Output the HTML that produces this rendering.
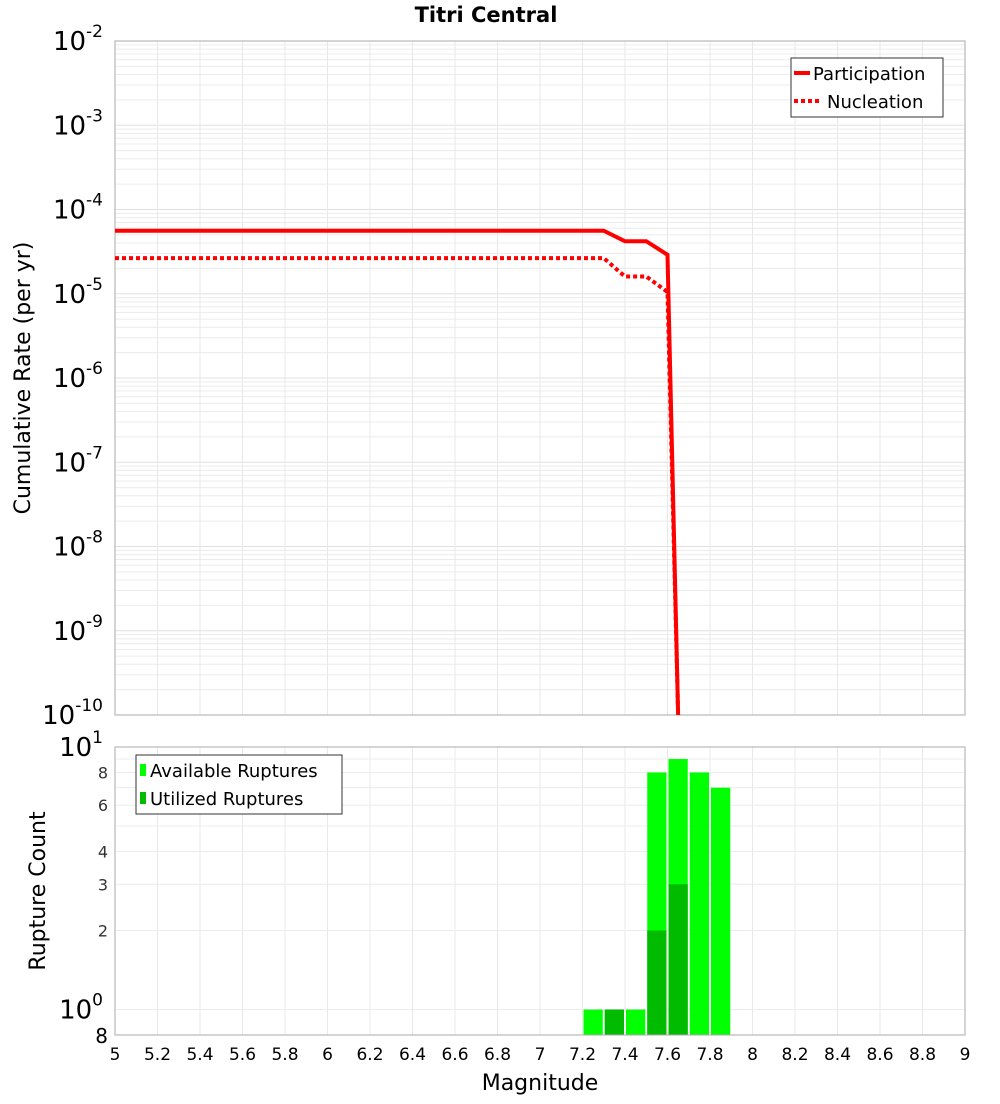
<!DOCTYPE html>
<html><head><meta charset="utf-8"><style>
body{margin:0;background:#fff;font-family:"DejaVu Sans","Liberation Sans",sans-serif;}
svg text{font-family:"DejaVu Sans","Liberation Sans",sans-serif;}
</style></head><body>
<svg id="c" width="1000" height="1100" xmlns="http://www.w3.org/2000/svg">
<text x="486" y="22" text-anchor="middle" font-size="21" font-weight="bold">Titri Central</text>
<g id="topg"></g><g id="botg"></g>
</svg>
<script>
// data
const partMag=[5.0,7.3,7.4,7.5,7.6,7.65];
const partRate=[5.6e-5,5.6e-5,4.2e-5,4.2e-5,2.9e-5,1e-10];
const nuclMag=[5.0,7.3,7.4,7.5,7.6,7.65];
const nuclRate=[2.65e-5,2.65e-5,1.6e-5,1.6e-5,1.05e-5,1e-10];
const binMag=[7.25,7.35,7.45,7.55,7.65,7.75,7.85];
const available=[1,1,1,8,9,8,7];
const utilized=[0,1,0,2,3,0,0];
const xTicks=[5,5.2,5.4,5.6,5.8,6,6.2,6.4,6.6,6.8,7,7.2,7.4,7.6,7.8,8,8.2,8.4,8.6,8.8,9];
const topExp=[-2,-3,-4,-5,-6,-7,-8,-9,-10];
const botTicks=[8,6,4,3,2];

const NS="http://www.w3.org/2000/svg";
const L=115,R=965,T1=41,B1=715,T2=747,B2=1035;
const X=m=>L+(m-5)/(9-5)*(R-L);
const Y1=v=>T1+(-2-Math.log10(v))/8*(B1-T1);
const Y2=v=>B2-(Math.log10(v)-Math.log10(0.8))/(1-Math.log10(0.8))*(B2-T2);
function el(p,tag,a,name,txt){const e=document.createElementNS(NS,tag);for(const k in a)e.setAttribute(k,a[k]);


if(txt!==undefined)e.textContent=txt;p.appendChild(e);return e;}
const topG=document.getElementById('topg'),botG=document.getElementById('botg');
el(topG,'rect',{x:L,y:T1,width:R-L,height:B1-T1,fill:'#fff'},'top-plot-area');
for(let e=-10;e<-2;e++)for(let k=1;k<10;k++){const y=Y1(k*Math.pow(10,e));el(topG,'line',{x1:L,x2:R,y1:y,y2:y,stroke:k==1?'#e0e0e0':'#ececec','stroke-width':1},'h-grid');}
xTicks.forEach(t=>{el(topG,'line',{x1:X(t),x2:X(t),y1:T1,y2:B1,stroke:'#e8e8e8'},'v-grid');el(botG,'line',{x1:X(t),x2:X(t),y1:T2,y2:B2,stroke:'#e8e8e8'},'v-grid');});
el(topG,'rect',{x:L,y:T1,width:R-L,height:B1-T1,fill:'none',stroke:'#aaa'},'top-plot-border');
topExp.forEach(e=>{const y=Y1(Math.pow(10,e));const g=el(topG,'text',{x:103,y:y+9,'text-anchor':'end','font-size':26},'y-tick-label');
g.innerHTML='10<tspan dy="-13" font-size="17">'+e+'</tspan>';});
const ln=(m,r)=>m.map((v,i)=>X(v)+','+Y1(r[i])).join(' ');
el(topG,'polyline',{points:ln(partMag,partRate),fill:'none',stroke:'#f00','stroke-width':4},'participation-line');
el(topG,'polyline',{points:ln(nuclMag,nuclRate),fill:'none',stroke:'#f00','stroke-width':4,'stroke-dasharray':'4,3'},'nucleation-line');
el(topG,'text',{x:30,y:378,'text-anchor':'middle','font-size':22,transform:'rotate(-90 30 378)'},'y-axis-title','Cumulative Rate (per yr)');
el(topG,'rect',{x:791,y:58,width:152,height:59,fill:'#fff',stroke:'#333'},'legend');
el(topG,'line',{x1:794,x2:810,y1:73,y2:73,stroke:'#f00','stroke-width':4},'legend-participation-swatch');
el(topG,'text',{x:813,y:80,'font-size':18},'legend-participation','Participation');
el(topG,'line',{x1:794,x2:822,y1:101,y2:101,stroke:'#f00','stroke-width':4,'stroke-dasharray':'4,3'},'legend-nucleation-swatch');
el(topG,'text',{x:827,y:108,'font-size':18},'legend-nucleation','Nucleation');
for(let k=1;k<=10;k++){const y=Y2(k);el(botG,'line',{x1:L,x2:R,y1:y,y2:y,stroke:'#ececec'},'h-grid');}
const w=X(0.1)-X(0)-2;
binMag.forEach((m,i)=>{const x=X(m-0.05)+1;
el(botG,'rect',{x:x,y:Y2(available[i]),width:w,height:B2-Y2(available[i]),fill:'#00ff00'},'bar-available');
if(utilized[i]>0)el(botG,'rect',{x:x,y:Y2(utilized[i]),width:w,height:B2-Y2(utilized[i]),fill:'#00bb00'},'bar-utilized');});
el(botG,'rect',{x:L,y:T2,width:R-L,height:B2-T2,fill:'none',stroke:'#aaa'},'bottom-plot-border');
botTicks.forEach(t=>el(botG,'text',{x:108,y:Y2(t)+6,'text-anchor':'end','font-size':16,fill:'#333'},'y2-tick-label',String(t)));
let g=el(botG,'text',{x:103,y:Y2(10)+9,'text-anchor':'end','font-size':26},'y2-tick-label');g.innerHTML='10<tspan dy="-13" font-size="17">1</tspan>';
g=el(botG,'text',{x:103,y:Y2(1)+9,'text-anchor':'end','font-size':26},'y2-tick-label');g.innerHTML='10<tspan dy="-13" font-size="17">0</tspan>';
el(botG,'text',{x:108,y:1043,'text-anchor':'end','font-size':20},'y2-tick-label','8');
el(botG,'text',{x:45,y:891,'text-anchor':'middle','font-size':22,transform:'rotate(-90 45 891)'},'y2-axis-title','Rupture Count');
xTicks.forEach(t=>el(botG,'text',{x:X(t),y:1060,'text-anchor':'middle','font-size':17},'x-tick-label',String(t)));
el(botG,'text',{x:540,y:1090,'text-anchor':'middle','font-size':22},'x-axis-title','Magnitude');
el(botG,'rect',{x:136,y:755,width:206,height:59,fill:'#fff',stroke:'#333'},'legend-bottom');
el(botG,'rect',{x:140,y:764,width:6,height:12,fill:'#00ff00'},'legend-available-swatch');
el(botG,'text',{x:150,y:777,'font-size':18},'legend-available','Available Ruptures');
el(botG,'rect',{x:140,y:792,width:6,height:12,fill:'#00bb00'},'legend-utilized-swatch');
el(botG,'text',{x:150,y:805,'font-size':18},'legend-utilized','Utilized Ruptures');
</script>
</body></html>
